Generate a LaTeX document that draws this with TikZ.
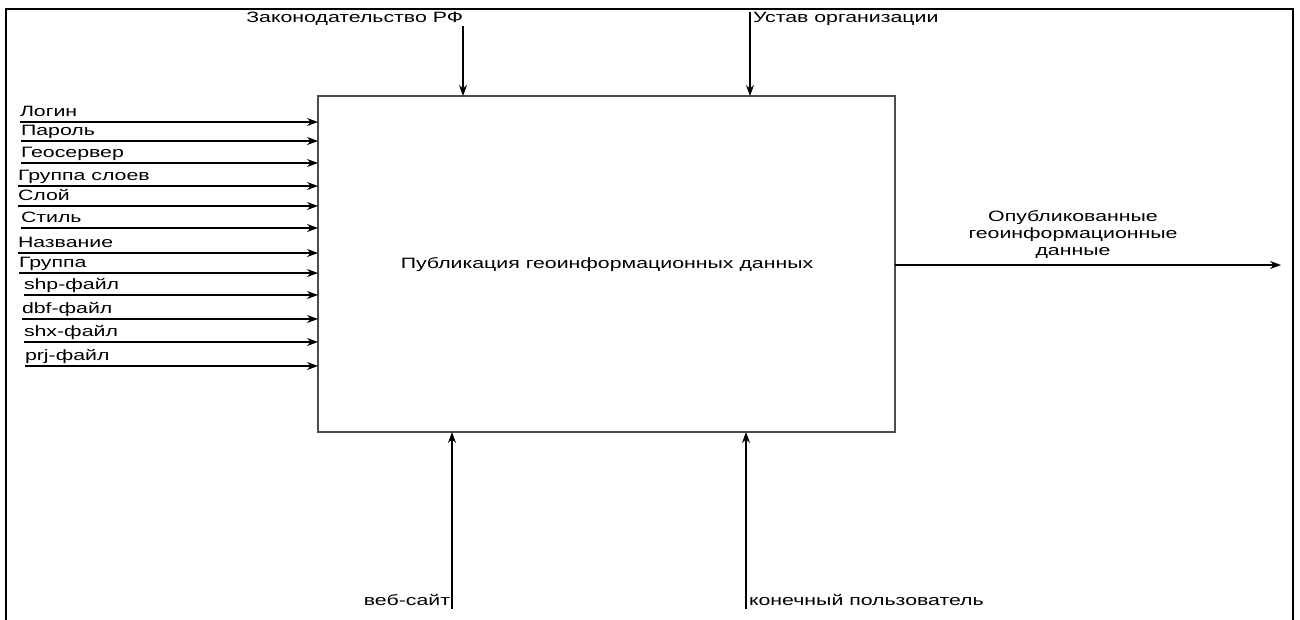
\documentclass[tikz,border=0pt]{standalone}
\usepackage{fontspec}
\setmainfont{Liberation Sans}[FakeStretch=1.42]
\usetikzlibrary{arrows.meta}
\begin{document}
\begin{tikzpicture}[x=1pt,y=-1pt,
  every node/.style={font=\fontsize{15}{17}\selectfont, inner sep=0pt, outer sep=0pt},
  flow/.style={draw=black, line width=1.1pt, -{Stealth[length=11pt,width=8pt]}},
  lbl/.style={anchor=base west},
  frame/.style={draw=black, line width=2pt},
  actbox/.style={draw=black!70, line width=1.6pt}]
\useasboundingbox (0,0) rectangle (1300,619);
% outer sheet frame
\draw[frame] (6,625) -- (6,9) -- (1293,9) -- (1293,625);

% the activity
\node[actbox, minimum width=577pt, minimum height=336pt, inner sep=0pt] (act) at (606.5,264) {};
\node (title) at (607,265) {Публикация геоинформационных данных};

% controls from above
\node[anchor=base east] (law) at (463,22) {Законодательство РФ};
\coordinate (lawc) at (463,26);
\draw[flow] (lawc) -- (lawc |- act.north);
\node[anchor=base west] (charter) at (753,22) {Устав организации};
\coordinate (chc) at (750,12);
\draw[flow] (chc) -- (chc |- act.north);

% inputs from the left
\foreach \name/\txt/\tx/\ly in {
  i1/Логин/20/122, i2/Пароль/21/141, i3/Геосервер/21/163,
  i4/Группа слоев/18/186, i5/Слой/18/206, i6/Стиль/21/228,
  i7/Название/18/253, i8/Группа/19/273, i9/shp-файл/24/295,
  i10/dbf-файл/22/319, i11/shx-файл/24/342, i12/prj-файл/25/366} {
  \node[lbl] (\name) at (\tx,\ly-6) {\txt};
  \coordinate (\name s) at (\tx,\ly);
  \draw[flow] (\name s) -- (\name s -| act.west);
}

% output to the right
\coordinate (outc) at (1281,265);
\draw[flow] (act.east |- outc) -- (outc);
\node[align=center] (outl) at (1073,234) {Опубликованные\\геоинформационные\\данные};

% mechanisms from below
\coordinate (webc) at (452,609);
\draw[flow] (webc) -- (webc |- act.south);
\node[anchor=base east] (web) at (450,605) {веб-сайт};
\coordinate (userc) at (746,609);
\draw[flow] (userc) -- (userc |- act.south);
\node[anchor=base west] (user) at (749,605) {конечный пользователь};
\end{tikzpicture}
\end{document}
